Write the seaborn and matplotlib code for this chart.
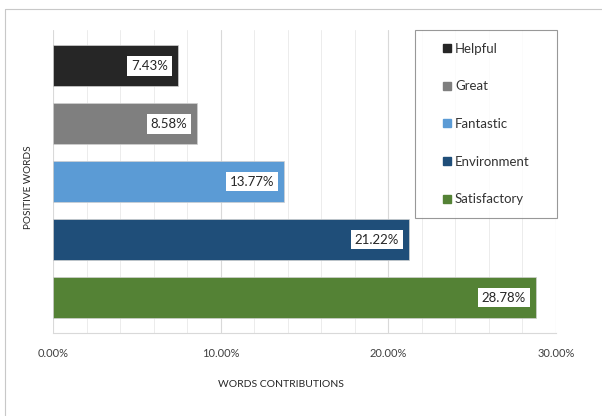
import matplotlib
matplotlib.use("Agg")
import matplotlib.pyplot as plt
import seaborn as sns
import pandas as pd
from matplotlib.lines import Line2D
from matplotlib.ticker import MultipleLocator

categories = ["Helpful", "Great", "Fantastic", "Environment", "Satisfactory"]
values = [7.43, 8.58, 13.77, 21.22, 28.78]
labels = ["7.43%", "8.58%", "13.77%", "21.22%", "28.78%"]
colors = ["#262626", "#7f7f7f", "#5b9bd5", "#1f4e79", "#548235"]
xticks = [0, 10, 20, 30]
xtick_labels = ["0.00%", "10.00%", "20.00%", "30.00%"]

sns.set_theme(style="white")
plt.rcParams["font.family"] = ["Lato", "DejaVu Sans"]

df = pd.DataFrame({"word": categories, "value": values})

W, H = 602, 416
fig = plt.figure(figsize=(W / 100, H / 100), dpi=100)
ax_l, ax_r, ax_t, ax_b = 53, 556, 30, 333
ax = fig.add_axes([ax_l / W, 1 - ax_b / H, (ax_r - ax_l) / W, (ax_b - ax_t) / H])

sns.barplot(data=df, x="value", y="word", hue="word", palette=colors,
            order=categories, hue_order=categories, legend=False,
            saturation=1, width=0.71, ax=ax, orient="h",
            edgecolor="#d0d0d0", linewidth=0.5)

ax.set_xlim(0, 30)
ax.set_ylim(4.61, -0.62)
ax.xaxis.set_minor_locator(MultipleLocator(2))
ax.set_xticks(xticks)
ax.set_xticklabels(xtick_labels)
ax.grid(True, axis="x", which="major", color="#d9d9d9", lw=0.8)
ax.grid(True, axis="x", which="minor", color="#ececec", lw=0.7)
ax.set_axisbelow(True)
ax.set_yticks([])
ax.tick_params(axis="x", which="both", length=0, labelsize=8, colors="#404040", pad=11)
for s in ["top", "right", "left"]:
    ax.spines[s].set_visible(False)
ax.spines["bottom"].set_color("#d9d9d9")
ax.spines["bottom"].set_linewidth(0.8)

ax.set_xlabel("WORDS CONTRIBUTIONS", fontsize=7.5, color="#262626")
ax.xaxis.set_label_coords((281 - ax_l) / (ax_r - ax_l), -(380 - ax_b) / (ax_b - ax_t))
ax.set_ylabel("POSITIVE WORDS", fontsize=7.2, color="#262626")
ax.yaxis.set_label_coords(-(ax_l - 33) / (ax_r - ax_l), (ax_b - 187.5) / (ax_b - ax_t))

for i, (v, lab) in enumerate(zip(values, labels)):
    ax.annotate(lab, xy=(v, i), xytext=(-7, 0), textcoords="offset points",
                ha="right", va="center", fontsize=9.5, color="#262626",
                bbox=dict(boxstyle="square,pad=0.28", fc="white", ec="none"))

fs = 9.5
fpx = fs * 100 / 72
handles = [Line2D([0], [0], marker="s", linestyle="none", markersize=5.5,
                  markerfacecolor=c, markeredgecolor=c) for c in colors]
bp = 12.5
hl = 38
tp = 40 - bp - hl
leg = ax.legend(handles, categories, loc="upper left",
                bbox_to_anchor=((415 - ax_l) / (ax_r - ax_l), 1.0,
                                (557 - 415) / (ax_r - ax_l), 0), mode="expand",
                fontsize=fs, labelspacing=1.95, handletextpad=tp / fpx,
                handlelength=hl / fpx, borderpad=bp / fpx, borderaxespad=0,
                numpoints=1, frameon=True, fancybox=False, edgecolor="#7f7f7f",
                labelcolor="#333333")
leg.get_frame().set_linewidth(0.8)

# figure outline (top and left)
fig.add_artist(Line2D([5 / W, 5 / W], [0, 1 - 9 / H], transform=fig.transFigure,
                      color="#c8c8c8", lw=0.8))
fig.add_artist(Line2D([5 / W, 1], [1 - 9 / H, 1 - 9 / H], transform=fig.transFigure,
                      color="#c8c8c8", lw=0.8))

fig.savefig("out.png", dpi=100)
